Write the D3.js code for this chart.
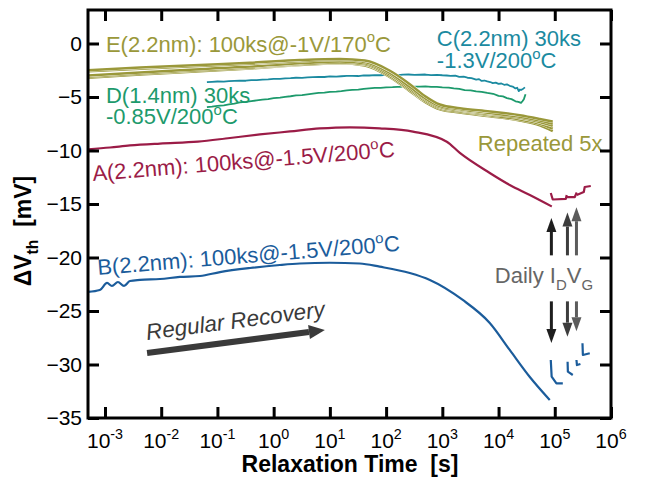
<!DOCTYPE html>
<html>
<head>
<meta charset="utf-8">
<script src="https://cdn.jsdelivr.net/npm/d3@7"></script>
<style>
body { margin: 0; background: #fff; }
svg text { font-family: "Liberation Sans", Arial, Helvetica, sans-serif; white-space: pre; }
</style>
</head>
<body>
<svg id="chart"></svg>
<script>
// ---- data (time in s, dVth in mV) ----
var tickExps = [-3, -2, -1, 0, 1, 2, 3, 4, 5, 6];
var yTicks = [-35, -30, -25, -20, -15, -10, -5, 0];

var timeA = [5e-4, 1.23e-3, 2.78e-3, 9.5e-3, 0.045, 0.167, 0.57, 1.95, 6.6, 22.7, 77, 300, 1200, 2050, 6980, 15800, 36000, 88500];
var dvA   = [-9.89, -9.72, -9.53, -9.35, -9.18, -8.83, -8.5, -8.22, -7.94, -7.83, -7.93, -8.24, -9.18, -10.23, -12.1, -13.22, -14.16, -15.23];

var timeB = [5e-4, 8.1e-4, 1.09e-3, 1.33e-3, 1.7e-3, 2.18e-3, 2.78e-3, 4.2e-3, 9.5e-3, 0.0215, 0.049, 0.111, 0.38, 1.29, 2.93, 10, 34, 77, 264, 600, 2310, 6980, 15800, 36000, 81500];
var dvB   = [-23.22, -23.04, -22.38, -22.66, -22.29, -22.66, -22.2, -22.1, -22.01, -21.82, -21.73, -21.36, -20.98, -20.7, -20.56, -20.49, -20.56, -20.86, -21.45, -22.1, -23.97, -26.12, -28.64, -31.17, -33.32];

var timeC = [0.065, 0.08, 0.1, 0.13, 0.16, 0.2, 0.25, 0.32, 0.4, 0.5, 0.63, 0.8, 1, 1.3, 1.6, 2, 2.5, 3.2, 4, 5, 6.3, 8, 10, 13, 16, 20, 25, 32, 40, 50, 63, 80, 100, 130, 160, 200, 250, 320, 400, 500, 630, 800, 1000, 1200, 1400, 1700, 2000, 2400, 2800, 3300, 4000, 4500, 5000, 5600, 6300, 7100, 7900, 8900, 10000, 11200, 12600, 14100, 15800, 17800, 20000, 21500, 22900, 24000, 25100, 27500, 29500];
var dvC   = [-3.62, -3.58, -3.55, -3.57, -3.52, -3.5, -3.47, -3.48, -3.42, -3.43, -3.38, -3.36, -3.3, -3.31, -3.26, -3.24, -3.2, -3.22, -3.17, -3.14, -3.12, -3.13, -3.08, -3.1, -3.06, -3.03, -3.02, -3.04, -2.98, -2.99, -2.96, -2.97, -2.93, -2.96, -2.95, -2.91, -2.9, -2.93, -2.92, -2.9, -2.95, -2.93, -2.97, -2.99, -3.02, -3.0, -3.12, -3.1, -3.2, -3.24, -3.38, -3.33, -3.5, -3.46, -3.55, -3.6, -3.7, -3.66, -3.78, -3.74, -3.86, -3.82, -3.95, -4.02, -4.2, -4.14, -4.45, -4.3, -4.35, -4.22, -4.1];

var timeD = [0.065, 0.08, 0.1, 0.13, 0.16, 0.2, 0.25, 0.32, 0.4, 0.5, 0.63, 0.8, 1, 1.3, 1.6, 2, 2.5, 3.2, 4, 5, 6.3, 8, 10, 13, 16, 20, 25, 32, 40, 50, 63, 80, 100, 130, 160, 200, 250, 320, 400, 500, 630, 800, 1000, 1300, 1600, 2000, 2500, 3200, 4000, 5000, 6300, 8000, 10000, 12000, 14100, 17000, 20000, 22500, 25100, 26600, 28200, 30200];
var dvD   = [-5.95, -5.9, -5.83, -5.78, -5.7, -5.62, -5.5, -5.46, -5.38, -5.32, -5.25, -5.2, -5.1, -5.06, -4.98, -4.93, -4.85, -4.82, -4.75, -4.68, -4.62, -4.6, -4.53, -4.5, -4.45, -4.38, -4.33, -4.31, -4.25, -4.2, -4.15, -4.14, -4.1, -4.08, -4.05, -4.06, -4.02, -4.04, -4.03, -4.01, -4.06, -4.05, -4.1, -4.13, -4.2, -4.24, -4.35, -4.38, -4.48, -4.52, -4.62, -4.7, -4.9, -4.95, -5.1, -5.2, -5.4, -5.45, -5.55, -5.4, -5.2, -4.75];

var timeE = [5e-4, 4.2e-3, 0.049, 0.38, 2.93, 15.1, 41.9, 117, 264, 489, 904, 2050, 6980, 23900, 54100, 92000];
var dvE1  = [-2.5, -2.25, -2.0, -1.8, -1.55, -1.45, -1.6, -2.55, -3.8, -4.9, -5.7, -6.05, -6.35, -6.7, -7.05, -7.3];
var dvE2  = [-2.6, -2.35, -2.1, -1.9, -1.65, -1.52, -1.72, -2.75, -4.05, -5.1, -5.85, -6.15, -6.5, -6.85, -7.2, -7.5];
var dvE3  = [-3.0, -2.7, -2.4, -2.15, -1.85, -1.68, -1.85, -2.9, -4.2, -5.2, -5.95, -6.25, -6.6, -6.95, -7.35, -7.7];
var dvE4  = [-3.1, -2.8, -2.5, -2.25, -1.95, -1.78, -1.95, -3.05, -4.35, -5.35, -6.05, -6.35, -6.7, -7.1, -7.5, -7.95];
var dvE5  = [-3.2, -2.9, -2.6, -2.33, -2.02, -1.85, -2.05, -3.15, -4.45, -5.45, -6.15, -6.45, -6.8, -7.2, -7.65, -8.2];

// daily IdVg pieces after the stress ends
var dailyTimeA = [[8.49e4, 9.2e4, 1.57e5, 1.63e5], [1.63e5, 2.27e5, 2.46e5], [2.46e5, 3.28e5, 3.41e5, 4.37e5]];
var dailyDvA   = [[-13.97, -14.58, -14.53, -14.16], [-14.35, -14.35, -13.93], [-14.16, -13.88, -13.41, -13.32]];
var dailyTimeB = [[8.49e4, 8.8e4, 1.07e5, 1.39e5], [1.69e5, 1.71e5, 2.09e5], [2.43e5, 2.48e5, 2.86e5], [3.11e5, 3.16e5, 4.19e5]];
var dailyDvB   = [[-29.58, -31.14, -31.76, -31.76], [-29.74, -30.67, -30.98], [-29.58, -30.05, -29.95], [-28.02, -29.11, -28.95]];

var arrowTimes  = [8.7e4, 1.68e5, 2.43e5];
var arrowUpFrom = -19.8;
var arrowUpTo   = [-16.3, -15.8, -15.3];
var arrowDownFrom = -24.1;
var arrowDownTo = [-28.0, -27.4, -26.9];
var arrowColors = ["#1e1e1e", "#3d3d3d", "#5c5c5c"];

var recoveryTimes = [5.6e-3, 8.15];
var recoveryDv = [-28.93, -26.77];

var colors = {A: "#9b1c47", B: "#1b5c9b", C: "#1b8aa0", D: "#1d9a6c", E: "#9a983a"};

// ---- layout ----
var W = 648, H = 480;
var margin = {left: 88, right: 37, top: 10, bottom: 62};

var svg = d3.select("#chart").attr("width", W).attr("height", H);

var x = d3.scaleLog()
  .domain([Math.pow(10, -3.302), 1e6])
  .range([margin.left, W - margin.right]);
var y = d3.scaleLinear()
  .domain([-35, 3.13])
  .range([H - margin.bottom, margin.top]);

var line = d3.line()
  .x(function(d) { return x(d[0]); })
  .y(function(d) { return y(d[1]); })
  .curve(d3.curveMonotoneX);
var rough = d3.line()
  .x(function(d) { return x(d[0]); })
  .y(function(d) { return y(d[1]); });

// rich text: parts = [[string, "n"|"sup"|"sub"], ...]
function rich(sel, parts, size) {
  var shift = 0;
  parts.forEach(function(p) {
    var off = p[1] === "sup" ? -size * 0.42 : (p[1] === "sub" ? size * 0.32 : 0);
    var ts = sel.append("tspan").text(p[0]).attr("dy", off - shift);
    if (p[1] !== "n") ts.attr("font-size", size * 0.68);
    shift = off;
  });
}

function arrow(g, x1, y1, x2, y2, color, w, hl, hw) {
  var a = Math.atan2(y2 - y1, x2 - x1);
  var bx = x2 - hl * Math.cos(a), by = y2 - hl * Math.sin(a);
  g.append("line").attr("x1", x1).attr("y1", y1).attr("x2", bx).attr("y2", by)
    .attr("stroke", color).attr("stroke-width", w);
  var px = -Math.sin(a) * hw / 2, py = Math.cos(a) * hw / 2;
  g.append("path")
    .attr("d", "M" + x2 + "," + y2 + "L" + (bx + px) + "," + (by + py) + "L" + (bx - px) + "," + (by - py) + "Z")
    .attr("fill", color);
}

// ---- curves ----
var curves = svg.append("g").attr("fill", "none").attr("stroke-linejoin", "round");

curves.append("path").datum(d3.zip(timeC, dvC)).attr("d", rough)
  .attr("stroke", colors.C).attr("stroke-width", 1.8);
curves.append("path").datum(d3.zip(timeD, dvD)).attr("d", rough)
  .attr("stroke", colors.D).attr("stroke-width", 1.8);
curves.append("path").datum(d3.zip(timeA, dvA)).attr("d", line)
  .attr("stroke", colors.A).attr("stroke-width", 2.2);
curves.append("path").datum(d3.zip(timeB, dvB)).attr("d", line)
  .attr("stroke", colors.B).attr("stroke-width", 2.2);

[dvE5, dvE4, dvE3, dvE2, dvE1].forEach(function(dv) {
  var pts = d3.zip(timeE, dv);
  curves.append("path").datum(pts).attr("d", line)
    .attr("stroke", "#fff").attr("stroke-width", 3.2);
  curves.append("path").datum(pts).attr("d", line)
    .attr("stroke", colors.E).attr("stroke-width", 2.5);
});

dailyTimeA.forEach(function(ts, i) {
  curves.append("path").datum(d3.zip(ts, dailyDvA[i])).attr("d", rough)
    .attr("stroke", colors.A).attr("stroke-width", 2.2);
});
dailyTimeB.forEach(function(ts, i) {
  curves.append("path").datum(d3.zip(ts, dailyDvB[i])).attr("d", rough)
    .attr("stroke", colors.B).attr("stroke-width", 2.2);
});

// ---- arrows ----
var arrows = svg.append("g");
arrowTimes.forEach(function(t, i) {
  arrow(arrows, x(t), y(arrowUpFrom), x(t), y(arrowUpTo[i]), arrowColors[i], 3, 14, 10);
  arrow(arrows, x(t), y(arrowDownFrom), x(t), y(arrowDownTo[i]), arrowColors[i], 3, 14, 10);
});
arrow(arrows, x(recoveryTimes[0]), y(recoveryDv[0]), x(recoveryTimes[1]), y(recoveryDv[1]), "#3a3a3a", 6, 16, 14);

// ---- labels ----
var fs = 22;
function label(t, v, color, parts, rot, extra) {
  var tx = svg.append("text")
    .attr("transform", "translate(" + x(t) + "," + y(v) + ") rotate(" + (rot || 0) + ")")
    .attr("fill", color).attr("font-size", fs);
  if (extra) extra(tx);
  rich(tx, parts, fs);
  return tx;
}
label(1.04e-3, -0.75, colors.E, [["E(2.2nm): 100ks@-1V/170", "n"], ["o", "sup"], ["C", "n"]]);
label(798, -0.23, colors.C, [["C(2.2nm) 30ks", "n"]]);
label(798, -2.29, colors.C, [["-1.3V/200", "n"], ["o", "sup"], ["C", "n"]]);
label(1.04e-3, -5.56, colors.D, [["D(1.4nm) 30ks", "n"]]);
label(1.04e-3, -7.52, colors.D, [["-0.85V/200", "n"], ["o", "sup"], ["C", "n"]]);
label(4280, -10.05, colors.E, [["Repeated 5x", "n"]]);
label(6.1e-4, -12.85, colors.A, [["A(2.2nm): 100ks@-1.5V/200", "n"], ["o", "sup"], ["C", "n"]], -4.6);
label(7.5e-4, -21.64, colors.B, [["B(2.2nm): 100ks@-1.5V/200", "n"], ["o", "sup"], ["C", "n"]], -4.6);
label(5.6e-3, -27.71, "#3a3a3a", [["Regular Recovery", "n"]], -7.5, function(t) { t.attr("font-style", "italic").attr("font-size", 22.5); });
label(8570, -22.38, "#666", [["Daily I", "n"], ["D", "sub"], ["V", "n"], ["G", "sub"]]);

// ---- axes ----
var plotW = W - margin.left - margin.right, plotH = H - margin.top - margin.bottom;
var tickVals = tickExps.map(function(e) { return Math.pow(10, e); });

function styleAxis(g) {
  g.select(".domain").remove();
  g.selectAll(".tick line").attr("stroke", "#000").attr("stroke-width", 3);
}

svg.append("g").attr("transform", "translate(0," + (H - margin.bottom) + ")")
  .call(d3.axisBottom(x).tickValues(tickVals).tickSize(-11).tickFormat(""))
  .call(styleAxis);
svg.append("g").attr("transform", "translate(0," + margin.top + ")")
  .call(d3.axisTop(x).tickValues(tickVals).tickSize(-11).tickFormat(""))
  .call(styleAxis);
var yAxisG = svg.append("g").attr("transform", "translate(" + margin.left + ",0)")
  .call(d3.axisLeft(y).tickValues(yTicks).tickSize(-11).tickPadding(6))
  .call(styleAxis);
yAxisG.selectAll("text").attr("font-size", 21).attr("fill", "#000")
  .attr("font-family", "'Liberation Sans', Arial, sans-serif");
svg.append("g").attr("transform", "translate(" + (W - margin.right) + ",0)")
  .call(d3.axisRight(y).tickValues(yTicks).tickSize(-11).tickFormat(""))
  .call(styleAxis);

// x tick labels 10^n
tickExps.forEach(function(e) {
  var tx = svg.append("text")
    .attr("x", x(Math.pow(10, e))).attr("y", H - margin.bottom + 30)
    .attr("text-anchor", "middle").attr("font-size", 21);
  rich(tx, [["10", "n"], [String(e), "sup"]], 21);
});

svg.append("rect")
  .attr("x", margin.left).attr("y", margin.top)
  .attr("width", plotW).attr("height", plotH)
  .attr("fill", "none").attr("stroke", "#000").attr("stroke-width", 3);

// axis titles
svg.append("text")
  .attr("x", 350).attr("y", 472)
  .attr("text-anchor", "middle").attr("font-size", 23).attr("font-weight", "bold")
  .text("Relaxation Time  [s]");

var yt = svg.append("text")
  .attr("transform", "translate(31,231) rotate(-90)")
  .attr("text-anchor", "middle").attr("font-size", 23).attr("font-weight", "bold");
rich(yt, [["\u0394V", "n"], ["th", "sub"], ["  [mV]", "n"]], 23);
</script>
</body>
</html>
